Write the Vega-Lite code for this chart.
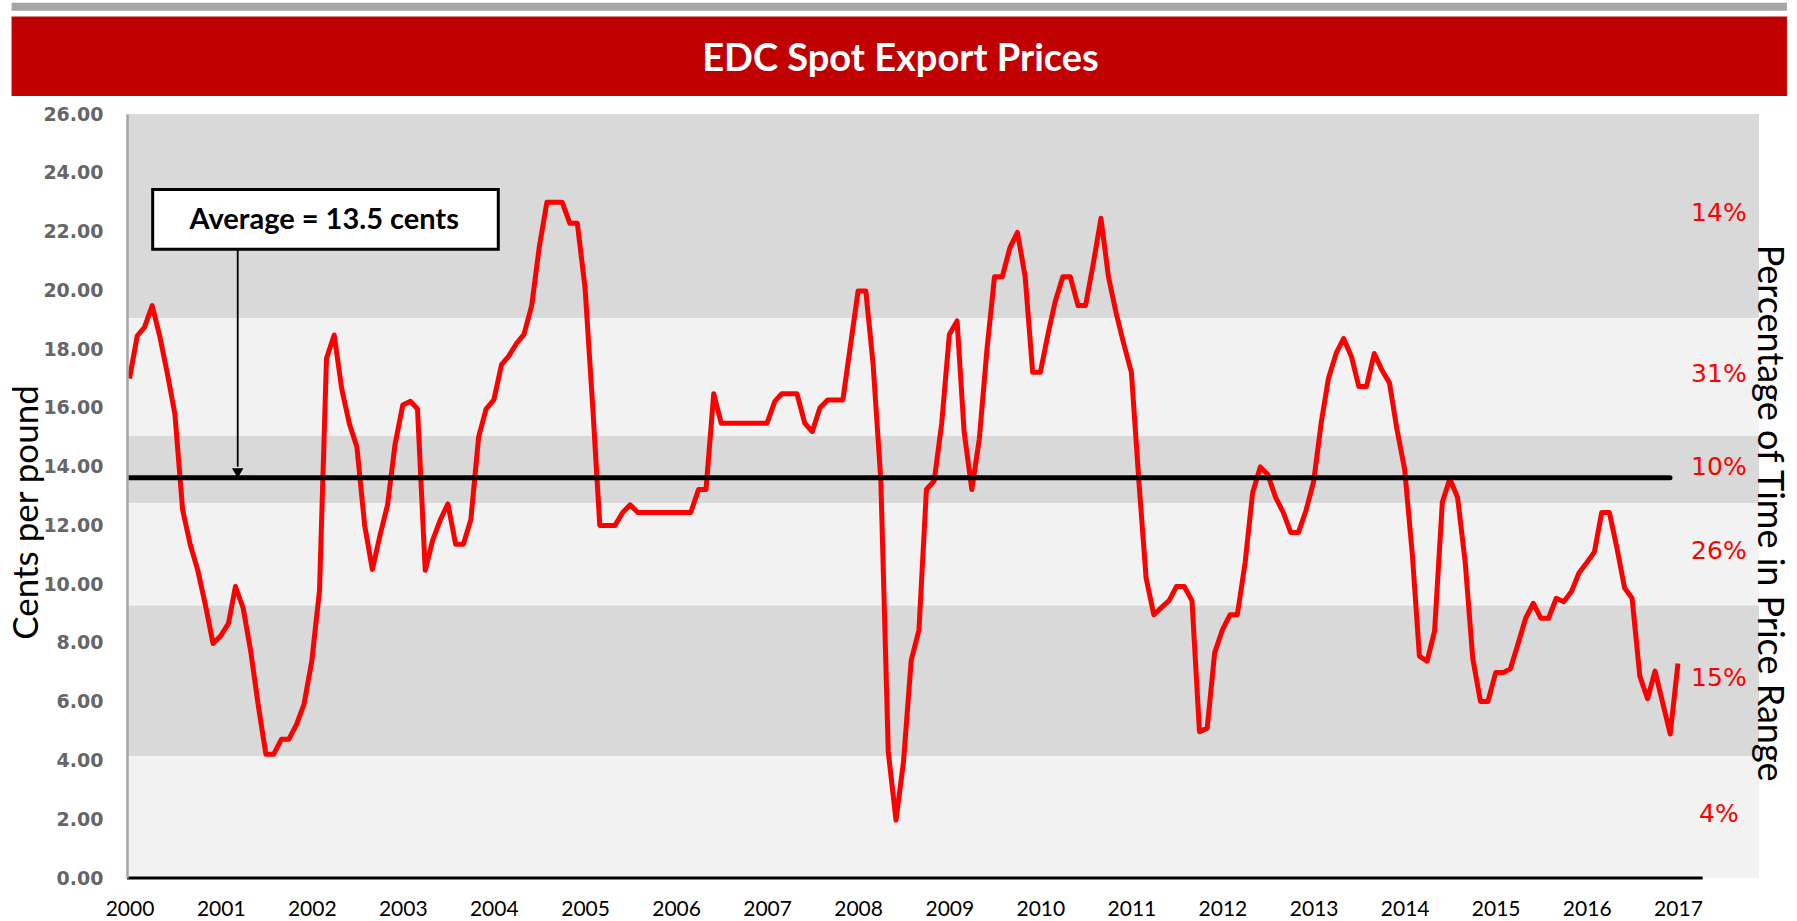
{
  "$schema": "https://vega.github.io/schema/vega-lite/v6.json",
  "width": 1632,
  "height": 764,
  "autosize": {"type": "none"},
  "padding": {"left": 127, "top": 114, "right": 38, "bottom": 43},
  "background": "#FFFFFF",
  "config": {"view": {"stroke": null}, "axis": {"grid": false, "ticks": false}},
  "datasets": {
    "prices": [
      {"date": "2000-01-01", "price": 17.0}, {"date": "2000-02-01", "price": 18.45}, {"date": "2000-03-01", "price": 18.74}, {"date": "2000-04-01", "price": 19.48}, {"date": "2000-05-01", "price": 18.45}, {"date": "2000-06-01", "price": 17.16}, {"date": "2000-07-01", "price": 15.79}, {"date": "2000-08-01", "price": 12.53}, {"date": "2000-09-01", "price": 11.33}, {"date": "2000-10-01", "price": 10.47}, {"date": "2000-11-01", "price": 9.27}, {"date": "2000-12-01", "price": 7.98},
      {"date": "2001-01-01", "price": 8.24}, {"date": "2001-02-01", "price": 8.67}, {"date": "2001-03-01", "price": 9.92}, {"date": "2001-04-01", "price": 9.18}, {"date": "2001-05-01", "price": 7.72}, {"date": "2001-06-01", "price": 5.84}, {"date": "2001-07-01", "price": 4.21}, {"date": "2001-08-01", "price": 4.21}, {"date": "2001-09-01", "price": 4.72}, {"date": "2001-10-01", "price": 4.72}, {"date": "2001-11-01", "price": 5.23}, {"date": "2001-12-01", "price": 5.92},
      {"date": "2002-01-01", "price": 7.38}, {"date": "2002-02-01", "price": 9.78}, {"date": "2002-03-01", "price": 17.68}, {"date": "2002-04-01", "price": 18.48}, {"date": "2002-05-01", "price": 16.65}, {"date": "2002-06-01", "price": 15.45}, {"date": "2002-07-01", "price": 14.67}, {"date": "2002-08-01", "price": 12.01}, {"date": "2002-09-01", "price": 10.5}, {"date": "2002-10-01", "price": 11.64}, {"date": "2002-11-01", "price": 12.7}, {"date": "2002-12-01", "price": 14.76},
      {"date": "2003-01-01", "price": 16.1}, {"date": "2003-02-01", "price": 16.22}, {"date": "2003-03-01", "price": 15.96}, {"date": "2003-04-01", "price": 10.47}, {"date": "2003-05-01", "price": 11.5}, {"date": "2003-06-01", "price": 12.2}, {"date": "2003-07-01", "price": 12.73}, {"date": "2003-08-01", "price": 11.36}, {"date": "2003-09-01", "price": 11.36}, {"date": "2003-10-01", "price": 12.2}, {"date": "2003-11-01", "price": 15.0}, {"date": "2003-12-01", "price": 15.96},
      {"date": "2004-01-01", "price": 16.27}, {"date": "2004-02-01", "price": 17.47}, {"date": "2004-03-01", "price": 17.76}, {"date": "2004-04-01", "price": 18.19}, {"date": "2004-05-01", "price": 18.5}, {"date": "2004-06-01", "price": 19.48}, {"date": "2004-07-01", "price": 21.45}, {"date": "2004-08-01", "price": 23.0}, {"date": "2004-09-01", "price": 23.0}, {"date": "2004-10-01", "price": 23.0}, {"date": "2004-11-01", "price": 22.28}, {"date": "2004-12-01", "price": 22.28},
      {"date": "2005-01-01", "price": 20.08}, {"date": "2005-02-01", "price": 16.0}, {"date": "2005-03-01", "price": 12.0}, {"date": "2005-04-01", "price": 12.0}, {"date": "2005-05-01", "price": 12.0}, {"date": "2005-06-01", "price": 12.44}, {"date": "2005-07-01", "price": 12.7}, {"date": "2005-08-01", "price": 12.44}, {"date": "2005-09-01", "price": 12.44}, {"date": "2005-10-01", "price": 12.44}, {"date": "2005-11-01", "price": 12.44}, {"date": "2005-12-01", "price": 12.44},
      {"date": "2006-01-01", "price": 12.44}, {"date": "2006-02-01", "price": 12.44}, {"date": "2006-03-01", "price": 12.44}, {"date": "2006-04-01", "price": 13.22}, {"date": "2006-05-01", "price": 13.22}, {"date": "2006-06-01", "price": 16.48}, {"date": "2006-07-01", "price": 15.48}, {"date": "2006-08-01", "price": 15.48}, {"date": "2006-09-01", "price": 15.48}, {"date": "2006-10-01", "price": 15.48}, {"date": "2006-11-01", "price": 15.48}, {"date": "2006-12-01", "price": 15.48},
      {"date": "2007-01-01", "price": 15.48}, {"date": "2007-02-01", "price": 16.22}, {"date": "2007-03-01", "price": 16.48}, {"date": "2007-04-01", "price": 16.48}, {"date": "2007-05-01", "price": 16.48}, {"date": "2007-06-01", "price": 15.48}, {"date": "2007-07-01", "price": 15.19}, {"date": "2007-08-01", "price": 16.0}, {"date": "2007-09-01", "price": 16.27}, {"date": "2007-10-01", "price": 16.27}, {"date": "2007-11-01", "price": 16.27}, {"date": "2007-12-01", "price": 18.1},
      {"date": "2008-01-01", "price": 19.98}, {"date": "2008-02-01", "price": 19.98}, {"date": "2008-03-01", "price": 17.5}, {"date": "2008-04-01", "price": 13.56}, {"date": "2008-05-01", "price": 4.29}, {"date": "2008-06-01", "price": 1.97}, {"date": "2008-07-01", "price": 3.95}, {"date": "2008-08-01", "price": 7.41}, {"date": "2008-09-01", "price": 8.44}, {"date": "2008-10-01", "price": 13.22}, {"date": "2008-11-01", "price": 13.51}, {"date": "2008-12-01", "price": 15.45},
      {"date": "2009-01-01", "price": 18.5}, {"date": "2009-02-01", "price": 18.96}, {"date": "2009-03-01", "price": 15.2}, {"date": "2009-04-01", "price": 13.22}, {"date": "2009-05-01", "price": 14.93}, {"date": "2009-06-01", "price": 18.0}, {"date": "2009-07-01", "price": 20.46}, {"date": "2009-08-01", "price": 20.46}, {"date": "2009-09-01", "price": 21.45}, {"date": "2009-10-01", "price": 21.97}, {"date": "2009-11-01", "price": 20.46}, {"date": "2009-12-01", "price": 17.21},
      {"date": "2010-01-01", "price": 17.21}, {"date": "2010-02-01", "price": 18.53}, {"date": "2010-03-01", "price": 19.6}, {"date": "2010-04-01", "price": 20.46}, {"date": "2010-05-01", "price": 20.46}, {"date": "2010-06-01", "price": 19.48}, {"date": "2010-07-01", "price": 19.48}, {"date": "2010-08-01", "price": 20.9}, {"date": "2010-09-01", "price": 22.45}, {"date": "2010-10-01", "price": 20.46}, {"date": "2010-11-01", "price": 19.22}, {"date": "2010-12-01", "price": 18.19},
      {"date": "2011-01-01", "price": 17.21}, {"date": "2011-02-01", "price": 13.39}, {"date": "2011-03-01", "price": 10.21}, {"date": "2011-04-01", "price": 8.96}, {"date": "2011-05-01", "price": 9.2}, {"date": "2011-06-01", "price": 9.44}, {"date": "2011-07-01", "price": 9.92}, {"date": "2011-08-01", "price": 9.92}, {"date": "2011-09-01", "price": 9.44}, {"date": "2011-10-01", "price": 4.98}, {"date": "2011-11-01", "price": 5.1}, {"date": "2011-12-01", "price": 7.67},
      {"date": "2012-01-01", "price": 8.44}, {"date": "2012-02-01", "price": 8.96}, {"date": "2012-03-01", "price": 8.96}, {"date": "2012-04-01", "price": 10.72}, {"date": "2012-05-01", "price": 13.1}, {"date": "2012-06-01", "price": 13.99}, {"date": "2012-07-01", "price": 13.73}, {"date": "2012-08-01", "price": 12.96}, {"date": "2012-09-01", "price": 12.44}, {"date": "2012-10-01", "price": 11.76}, {"date": "2012-11-01", "price": 11.76}, {"date": "2012-12-01", "price": 12.5},
      {"date": "2013-01-01", "price": 13.5}, {"date": "2013-02-01", "price": 15.53}, {"date": "2013-03-01", "price": 16.99}, {"date": "2013-04-01", "price": 17.85}, {"date": "2013-05-01", "price": 18.36}, {"date": "2013-06-01", "price": 17.76}, {"date": "2013-07-01", "price": 16.73}, {"date": "2013-08-01", "price": 16.73}, {"date": "2013-09-01", "price": 17.85}, {"date": "2013-10-01", "price": 17.3}, {"date": "2013-11-01", "price": 16.85}, {"date": "2013-12-01", "price": 15.27},
      {"date": "2014-01-01", "price": 13.9}, {"date": "2014-02-01", "price": 10.98}, {"date": "2014-03-01", "price": 7.55}, {"date": "2014-04-01", "price": 7.38}, {"date": "2014-05-01", "price": 8.41}, {"date": "2014-06-01", "price": 12.79}, {"date": "2014-07-01", "price": 13.59}, {"date": "2014-08-01", "price": 12.96}, {"date": "2014-09-01", "price": 10.73}, {"date": "2014-10-01", "price": 7.47}, {"date": "2014-11-01", "price": 6.01}, {"date": "2014-12-01", "price": 6.01},
      {"date": "2015-01-01", "price": 6.99}, {"date": "2015-02-01", "price": 6.99}, {"date": "2015-03-01", "price": 7.12}, {"date": "2015-04-01", "price": 7.98}, {"date": "2015-05-01", "price": 8.84}, {"date": "2015-06-01", "price": 9.35}, {"date": "2015-07-01", "price": 8.84}, {"date": "2015-08-01", "price": 8.84}, {"date": "2015-09-01", "price": 9.52}, {"date": "2015-10-01", "price": 9.4}, {"date": "2015-11-01", "price": 9.75}, {"date": "2015-12-01", "price": 10.38},
      {"date": "2016-01-01", "price": 10.73}, {"date": "2016-02-01", "price": 11.1}, {"date": "2016-03-01", "price": 12.44}, {"date": "2016-04-01", "price": 12.44}, {"date": "2016-05-01", "price": 11.24}, {"date": "2016-06-01", "price": 9.87}, {"date": "2016-07-01", "price": 9.52}, {"date": "2016-08-01", "price": 6.87}, {"date": "2016-09-01", "price": 6.1}, {"date": "2016-10-01", "price": 7.04}, {"date": "2016-11-01", "price": 5.95}, {"date": "2016-12-01", "price": 4.9},
      {"date": "2017-01-01", "price": 7.3}
    ],
    "ranges": [
      {"lo": 19.05, "hi": 26, "pct": "14%"},
      {"lo": 15.05, "hi": 19.05, "pct": "31%"},
      {"lo": 12.75, "hi": 15.05, "pct": "10%"},
      {"lo": 9.27, "hi": 12.75, "pct": "26%"},
      {"lo": 4.15, "hi": 9.27, "pct": "15%"},
      {"lo": 0, "hi": 4.15, "pct": "4%"}
    ],
    "notes": [
      {"title": "EDC Spot Export Prices", "note": "Average = 13.5 cents", "right": "Percentage of Time in Price Range"}
    ]
  },
  "layer": [
    {
      "data": {"name": "notes"},
      "mark": {"type": "rect", "fill": "#A6A6A6"},
      "encoding": {
        "x": {"datum": {"year": 1998, "month": 9, "date": 15, "utc": true}, "type": "temporal", "scale": {"type": "utc", "domain": [{"year": 1999, "month": 12, "date": 22, "utc": true}, {"year": 2017, "month": 11, "date": 22, "utc": true}]}},
        "x2": {"datum": {"year": 2018, "month": 3, "date": 14, "utc": true}},
        "y": {"datum": 29.51, "type": "quantitative", "scale": {"domain": [0, 26], "nice": false, "zero": false}},
        "y2": {"datum": 29.79}
      }
    },
    {
      "data": {"name": "notes"},
      "mark": {"type": "rect", "fill": "#C00000"},
      "encoding": {
        "x": {"datum": {"year": 1998, "month": 9, "date": 15, "utc": true}, "type": "temporal", "scale": {"type": "utc", "domain": [{"year": 1999, "month": 12, "date": 22, "utc": true}, {"year": 2017, "month": 11, "date": 22, "utc": true}]}},
        "x2": {"datum": {"year": 2018, "month": 3, "date": 14, "utc": true}},
        "y": {"datum": 26.61, "type": "quantitative", "scale": {"domain": [0, 26], "nice": false, "zero": false}},
        "y2": {"datum": 29.32}
      }
    },
    {
      "data": {"name": "notes"},
      "mark": {"type": "text", "color": "#FFFFFF", "font": "Lato", "fontWeight": "bold", "fontSize": 38, "align": "center", "baseline": "middle"},
      "encoding": {
        "x": {"datum": {"year": 2008, "month": 6, "date": 19, "utc": true}, "type": "temporal", "scale": {"type": "utc", "domain": [{"year": 1999, "month": 12, "date": 22, "utc": true}, {"year": 2017, "month": 11, "date": 22, "utc": true}]}},
        "y": {"datum": 27.85, "type": "quantitative", "scale": {"domain": [0, 26], "nice": false, "zero": false}},
        "text": {"field": "title"}
      }
    },
    {
      "data": {"name": "ranges"},
      "mark": {"type": "rect"},
      "encoding": {
        "x": {"datum": {"year": 1999, "month": 12, "date": 22, "utc": true}, "type": "temporal", "scale": {"type": "utc", "domain": [{"year": 1999, "month": 12, "date": 22, "utc": true}, {"year": 2017, "month": 11, "date": 22, "utc": true}]}},
        "x2": {"datum": {"year": 2017, "month": 11, "date": 22, "utc": true}},
        "y": {"field": "lo", "type": "quantitative", "scale": {"domain": [0, 26], "nice": false, "zero": false}},
        "y2": {"field": "hi"},
        "color": {"field": "pct", "type": "nominal", "scale": {"domain": ["14%", "31%", "10%", "26%", "15%", "4%"], "range": ["#D9D9D9", "#F2F2F2", "#D9D9D9", "#F2F2F2", "#D9D9D9", "#F2F2F2"]}, "legend": null}
      }
    },
    {
      "data": {"name": "ranges"},
      "transform": [{"calculate": "(datum.lo + datum.hi) / 2", "as": "mid"}],
      "mark": {"type": "text", "color": "#FF0000", "font": "DejaVu Sans", "fontSize": 25, "align": "center", "baseline": "middle", "dy": -3},
      "encoding": {
        "x": {"datum": {"year": 2017, "month": 6, "date": 14, "utc": true}, "type": "temporal", "scale": {"type": "utc", "domain": [{"year": 1999, "month": 12, "date": 22, "utc": true}, {"year": 2017, "month": 11, "date": 22, "utc": true}]}},
        "y": {"field": "mid", "type": "quantitative", "scale": {"domain": [0, 26], "nice": false, "zero": false}},
        "text": {"field": "pct"}
      }
    },
    {
      "data": {"name": "prices"},
      "mark": {"type": "line", "color": "#FF0000", "strokeWidth": 5, "strokeJoin": "round"},
      "encoding": {
        "x": {
          "field": "date", "type": "temporal",
          "scale": {"type": "utc", "domain": [{"year": 1999, "month": 12, "date": 22, "utc": true}, {"year": 2017, "month": 11, "date": 22, "utc": true}]},
          "axis": {
            "title": null, "format": "%Y", "formatType": "utc", "domain": false, "ticks": false, "grid": false,
            "values": [{"year": 2000, "utc": true}, {"year": 2001, "utc": true}, {"year": 2002, "utc": true}, {"year": 2003, "utc": true}, {"year": 2004, "utc": true}, {"year": 2005, "utc": true}, {"year": 2006, "utc": true}, {"year": 2007, "utc": true}, {"year": 2008, "utc": true}, {"year": 2009, "utc": true}, {"year": 2010, "utc": true}, {"year": 2011, "utc": true}, {"year": 2012, "utc": true}, {"year": 2013, "utc": true}, {"year": 2014, "utc": true}, {"year": 2015, "utc": true}, {"year": 2016, "utc": true}, {"year": 2017, "utc": true}],
            "labelFont": "Lato", "labelFontSize": 21, "labelColor": "#000000", "labelPadding": 20, "labelBaseline": "top", "labelFlush": false, "labelOverlap": false
          }
        },
        "y": {
          "field": "price", "type": "quantitative",
          "scale": {"domain": [0, 26], "nice": false, "zero": false},
          "axis": {
            "title": "Cents per pound", "titleFont": "Lato", "titleFontSize": 35, "titleFontWeight": "normal", "titleColor": "#000000",
            "titleX": -101, "titleY": 398, "titleAngle": -90, "titleAlign": "center", "titleBaseline": "middle",
            "values": [0, 2, 4, 6, 8, 10, 12, 14, 16, 18, 20, 22, 24, 26], "format": ".2f",
            "labelFont": "DejaVu Sans", "labelFontWeight": "bold", "labelFontSize": 19, "labelColor": "#666666", "labelPadding": 24,
            "domain": true, "domainColor": "#A6A6A6", "domainWidth": 2.5, "ticks": false, "grid": false, "zindex": 1
          }
        }
      }
    },
    {
      "data": {"name": "notes"},
      "mark": {"type": "rule", "color": "#000000", "strokeWidth": 3},
      "encoding": {
        "x": {"datum": {"year": 1999, "month": 12, "date": 22, "utc": true}, "type": "temporal", "scale": {"type": "utc", "domain": [{"year": 1999, "month": 12, "date": 22, "utc": true}, {"year": 2017, "month": 11, "date": 22, "utc": true}]}},
        "x2": {"datum": {"year": 2017, "month": 4, "date": 10, "utc": true}},
        "y": {"datum": 0, "type": "quantitative", "scale": {"domain": [0, 26], "nice": false, "zero": false}}
      }
    },
    {
      "data": {"name": "notes"},
      "mark": {"type": "rule", "color": "#000000", "strokeWidth": 5, "strokeCap": "round"},
      "encoding": {
        "x": {"datum": {"year": 1999, "month": 12, "date": 31, "utc": true}, "type": "temporal", "scale": {"type": "utc", "domain": [{"year": 1999, "month": 12, "date": 22, "utc": true}, {"year": 2017, "month": 11, "date": 22, "utc": true}]}},
        "x2": {"datum": {"year": 2016, "month": 11, "date": 30, "utc": true}},
        "y": {"datum": 13.62, "type": "quantitative", "scale": {"domain": [0, 26], "nice": false, "zero": false}}
      }
    },
    {
      "data": {"name": "notes"},
      "mark": {"type": "rule", "color": "#000000", "strokeWidth": 1.8},
      "encoding": {
        "x": {"datum": {"year": 2001, "month": 3, "date": 10, "utc": true}, "type": "temporal", "scale": {"type": "utc", "domain": [{"year": 1999, "month": 12, "date": 22, "utc": true}, {"year": 2017, "month": 11, "date": 22, "utc": true}]}},
        "y": {"datum": 21.4, "type": "quantitative", "scale": {"domain": [0, 26], "nice": false, "zero": false}},
        "y2": {"datum": 14.0}
      }
    },
    {
      "data": {"name": "notes"},
      "mark": {"type": "point", "shape": "triangle-down", "filled": true, "color": "#000000", "size": 130, "opacity": 1},
      "encoding": {
        "x": {"datum": {"year": 2001, "month": 3, "date": 10, "utc": true}, "type": "temporal", "scale": {"type": "utc", "domain": [{"year": 1999, "month": 12, "date": 22, "utc": true}, {"year": 2017, "month": 11, "date": 22, "utc": true}]}},
        "y": {"datum": 13.78, "type": "quantitative", "scale": {"domain": [0, 26], "nice": false, "zero": false}}
      }
    },
    {
      "data": {"name": "notes"},
      "mark": {"type": "rect", "fill": "#FFFFFF", "stroke": "#000000", "strokeWidth": 3},
      "encoding": {
        "x": {"datum": {"year": 2000, "month": 4, "date": 3, "utc": true}, "type": "temporal", "scale": {"type": "utc", "domain": [{"year": 1999, "month": 12, "date": 22, "utc": true}, {"year": 2017, "month": 11, "date": 22, "utc": true}]}},
        "x2": {"datum": {"year": 2004, "month": 1, "date": 19, "utc": true}},
        "y": {"datum": 21.4, "type": "quantitative", "scale": {"domain": [0, 26], "nice": false, "zero": false}},
        "y2": {"datum": 23.43}
      }
    },
    {
      "data": {"name": "notes"},
      "mark": {"type": "text", "color": "#000000", "font": "Lato", "fontWeight": "bold", "fontSize": 29, "align": "center", "baseline": "middle"},
      "encoding": {
        "x": {"datum": {"year": 2002, "month": 2, "date": 20, "utc": true}, "type": "temporal", "scale": {"type": "utc", "domain": [{"year": 1999, "month": 12, "date": 22, "utc": true}, {"year": 2017, "month": 11, "date": 22, "utc": true}]}},
        "y": {"datum": 22.39, "type": "quantitative", "scale": {"domain": [0, 26], "nice": false, "zero": false}},
        "text": {"field": "note"}
      }
    },
    {
      "data": {"name": "notes"},
      "mark": {"type": "text", "color": "#000000", "font": "Lato", "fontSize": 36, "align": "center", "baseline": "middle", "angle": 90},
      "encoding": {
        "x": {"datum": {"year": 2018, "month": 1, "date": 3, "utc": true}, "type": "temporal", "scale": {"type": "utc", "domain": [{"year": 1999, "month": 12, "date": 22, "utc": true}, {"year": 2017, "month": 11, "date": 22, "utc": true}]}},
        "y": {"datum": 12.42, "type": "quantitative", "scale": {"domain": [0, 26], "nice": false, "zero": false}},
        "text": {"field": "right"}
      }
    }
  ]
}
